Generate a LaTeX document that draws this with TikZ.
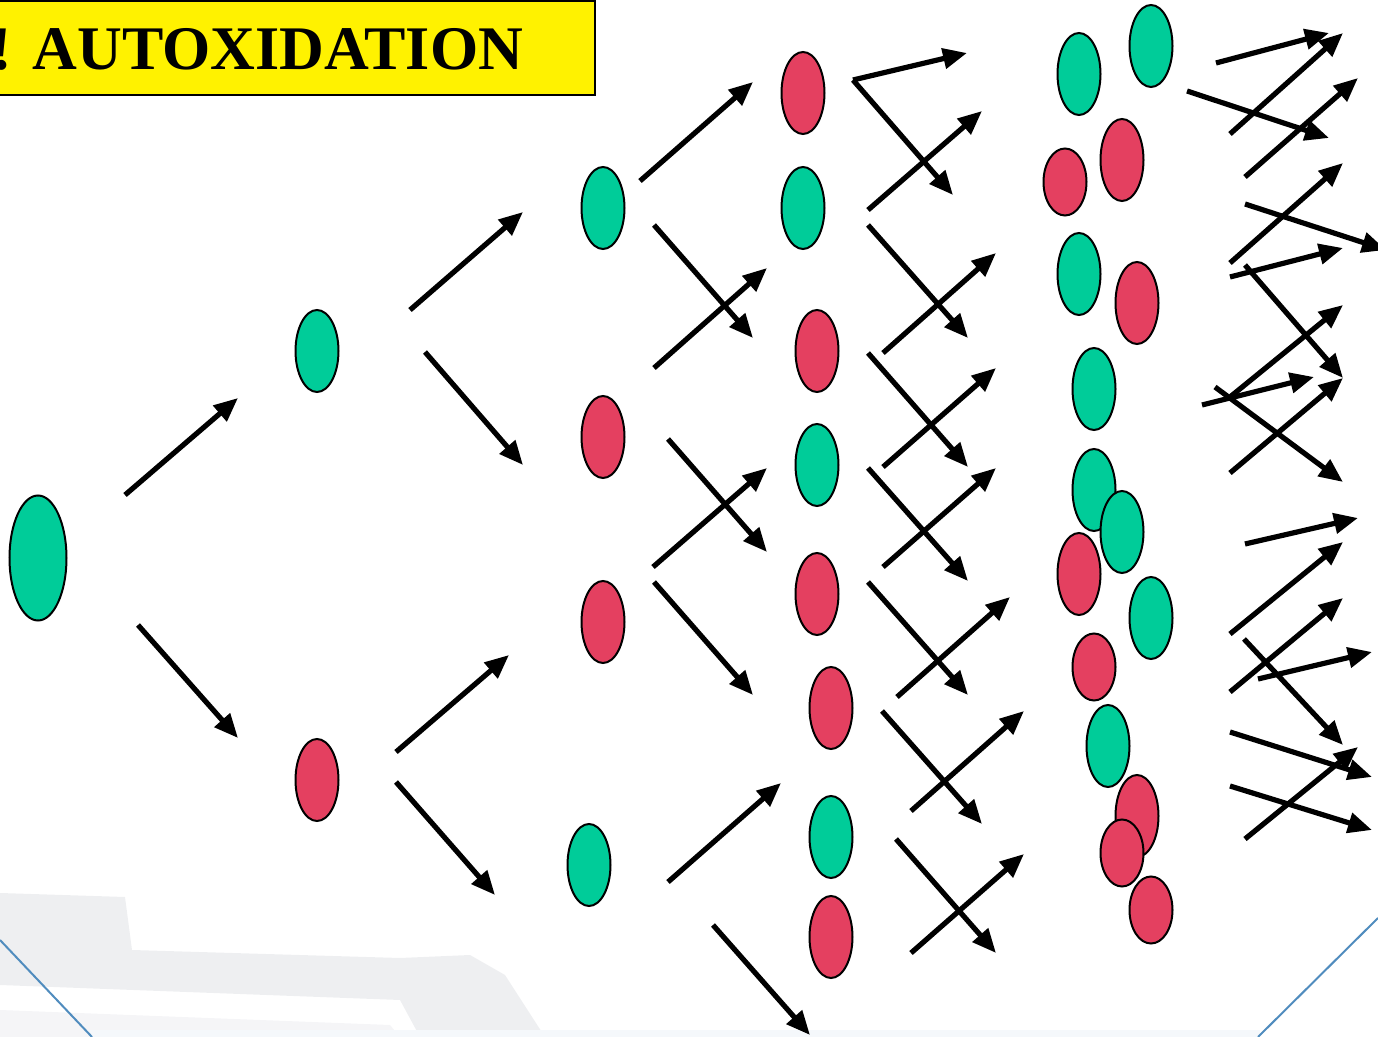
\documentclass[tikz,border=0pt]{standalone}
\usepackage{fontspec}
\newfontfamily\titlefont{Liberation Serif}
\usetikzlibrary{arrows.meta,shapes.geometric}

\definecolor{molgreen}{RGB}{0,204,153}
\definecolor{molred}{RGB}{228,64,96}
\definecolor{slideblue}{RGB}{80,140,190}
\definecolor{ghost}{RGB}{238,239,241}

\tikzset{
  arr/.style={line width=2.6pt, -{Triangle[length=12pt,width=10pt]}},
  blob/.style={ellipse, draw, line width=1pt, inner sep=0pt,
    minimum width=21.5pt, minimum height=41pt},
  g/.style={blob, fill=molgreen},
  r/.style={blob, fill=molred},
  rs/.style={r, minimum height=33.5pt},
}

\begin{document}
\begin{tikzpicture}[x=0.5pt, y=-0.5pt]
  \useasboundingbox (0,0) rectangle (1378,1037);

  % faint slide background
  \fill[ghost] (0,893) -- (125,897) -- (132,950) -- (400,958) -- (470,955)
    -- (505,975) -- (545,1037) -- (420,1037) -- (400,1000) -- (0,985) -- cycle;
  \fill[ghost!60] (0,1010) -- (390,1025) -- (400,1037) -- (0,1037) -- cycle;
  \fill[slideblue!6] (90,1030) rectangle (1260,1037);
  \draw[slideblue, line width=1pt] (0,940) -- (92,1037);
  \draw[slideblue, line width=1pt] (1378,918) -- (1258,1037);

  % title
  \draw[fill=yellow, line width=1pt] (-5,1) rectangle (595,95);
  \node[anchor=base west, inner sep=0pt] (title) at (-9,70)
    {\titlefont\bfseries\fontsize{31}{36}\selectfont ! AUTOXIDATION};

  % chain reaction arrows
  \foreach \sx/\sy/\ex/\ey [count=\n] in {
      125/495/238/398, 138/625/238/738,
      410/310/523/212, 425/352/523/465, 396/752/509/655, 396/782/495/895,
      640/181/753/82, 654/225/753/338, 654/368/767/268, 668/439/767/552,
      653/567/767/468, 654/582/753/695, 668/882/781/783, 713/925/810/1035,
      853/80/967/53, 853/80/953/195, 868/210/982/111, 868/225/968/338,
      883/353/996/253, 868/353/968/467, 883/467/996/368, 868/468/968/581,
      883/567/996/468, 868/582/968/695, 897/697/1010/597, 882/711/982/824,
      911/811/1024/711, 896/839/996/953, 911/953/1024/854,
      1216/63/1329/33, 1230/134/1343/33, 1187/91/1329/138, 1245/177/1358/78,
      1230/263/1343/163, 1245/204/1386/250, 1230/277/1343/248,
      1245/265/1343/378, 1230/473/1343/378, 1230/397/1343/305,
      1202/405/1314/377, 1215/387/1343/482, 1245/544/1358/518,
      1230/634/1343/542, 1230/692/1343/598, 1258/679/1372/652,
      1244/639/1343/745, 1230/732/1372/777, 1230/786/1372/830,
      1245/839/1358/747} {
    \coordinate (s\n) at (\sx,\sy);
    \coordinate (t\n) at (\ex,\ey);
    \draw[arr] (s\n) -- (t\n);
  }

  % molecules
  \node[g, minimum width=28.5pt, minimum height=62.5pt] (m0) at (38,558) {};
  \foreach \x/\y/\kind [count=\n] in {
      317/351/g, 317/780/r,
      603/208/g, 603/437/r, 603/622/r, 589/865/g,
      803/93/r, 803/208/g, 817/351/r, 817/465/g,
      817/594/r, 831/708/r, 831/837/g, 831/937/r,
      1079/74/g, 1151/46/g, 1065/182/rs, 1122/160/r,
      1079/274/g, 1137/303/r, 1094/389/g, 1094/490/g,
      1122/532/g, 1079/574/r, 1151/618/g, 1094/667/rs,
      1108/746/g, 1137/816/r, 1122/853/rs, 1151/910/rs} {
    \node[\kind] (m\n) at (\x,\y) {};
  }
\end{tikzpicture}
\end{document}
